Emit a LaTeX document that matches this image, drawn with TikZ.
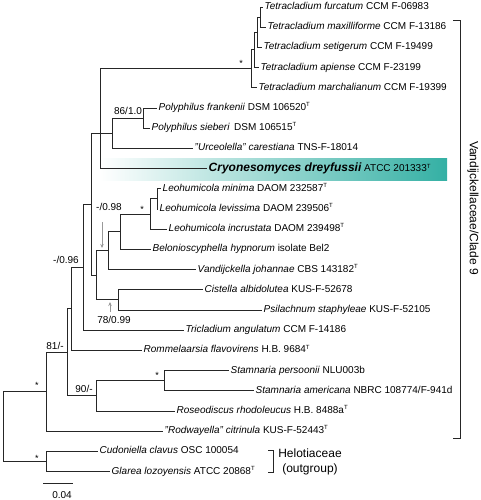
\documentclass[tikz,border=0pt]{standalone}
\usepackage{fontspec}
\setmainfont{Liberation Sans}
\usetikzlibrary{arrows.meta}
\definecolor{cryoteal}{RGB}{52,176,164}
\newcommand{\typeT}{\raisebox{3.8pt}{\fontsize{6}{6}\selectfont T}}
\begin{document}
\begin{tikzpicture}[x=1pt,y=-1pt,
	branch/.style={draw=black!85,line width=0.9pt},
	taxon/.style={anchor=west,inner xsep=1.5pt,inner ysep=0pt,text height=7pt,text depth=2pt,font=\fontsize{10}{12}\selectfont},
	support/.style={inner sep=0pt,text height=7pt,text depth=0pt,font=\fontsize{10}{12}\selectfont},
	supstar/.style={inner sep=0pt,font=\fontsize{9}{10}\selectfont},
	hint/.style={draw=black!40,line width=0.9pt,-{Stealth[length=4pt,width=3.5pt]}}]
						\useasboundingbox (0,0) rectangle (480,500);
						\coordinate (hl1) at (100,158);
						\coordinate (hl2) at (447,180);
						\shade[left color=white,right color=cryoteal] (hl1) rectangle (hl2);% Highlight
						% tips
						\node[taxon] (furc) at (263,7.0) {\textit{Tetracladium furcatum} CCM F-06983};
						\node[taxon] (maxil) at (266,27.2) {\textit{Tetracladium maxilliforme} CCM F-13186};
						\node[taxon] (setig) at (262,47.4) {\textit{Tetracladium setigerum} CCM F-19499};
						\node[taxon] (apien) at (259,67.6) {\textit{Tetracladium apiense} CCM F-23199};
						\node[taxon] (march) at (257,87.8) {\textit{Tetracladium marchalianum} CCM F-19399};
						\node[taxon] (frank) at (157,108.0) {\textit{Polyphilus frankenii} DSM 106520\typeT};
						\node[taxon] (sieb) at (150,128.2) {\textit{Polyphilus sieberi}\hspace{4.5pt}DSM 106515\typeT};
						\node[taxon] (urc) at (193,148.4) {\textit{"Urceolella" carestiana} TNS-F-18014};
						\node[taxon,text height=9pt,text depth=2.5pt] (cryo) at (207,168.6) {{\fontsize{12}{14}\selectfont\bfseries\itshape Cryonesomyces dreyfussii} ATCC 201333\typeT};
						\node[taxon] (lmin) at (161,188.8) {\textit{Leohumicola minima} DAOM 232587\typeT};
						\node[taxon] (llev) at (158,209.0) {\textit{Leohumicola levissima} DAOM 239506\typeT};
						\node[taxon] (linc) at (167,229.2) {\textit{Leohumicola incrustata} DAOM 239498\typeT};
						\node[taxon] (belo) at (151,249.4) {\textit{Belonioscyphella hypnorum} isolate Bel2};
						\node[taxon] (vand) at (196,269.6) {\textit{Vandijckella johannae} CBS 143182\typeT};
						\node[taxon] (cist) at (203,289.8) {\textit{Cistella albidolutea} KUS-F-52678};
						\node[taxon] (psil) at (262,310.0) {\textit{Psilachnum staphyleae} KUS-F-52105};
						\node[taxon] (tricl) at (184,330.2) {\textit{Tricladium angulatum} CCM F-14186};
						\node[taxon] (romm) at (142,350.4) {\textit{Rommelaarsia flavovirens} H.B. 9684\typeT};
						\node[taxon] (pers) at (229,370.6) {\textit{Stamnaria persoonii} NLU003b};
						\node[taxon] (amer) at (254,390.8) {\textit{Stamnaria americana} NBRC 108774/F-941d};
						\node[taxon] (rose) at (175,411.0) {\textit{Roseodiscus rhodoleucus} H.B. 8488a\typeT};
						\node[taxon] (rodw) at (163,431.2) {\textit{"Rodwayella" citrinula} KUS-F-52443\typeT};
						\node[taxon] (cud) at (98,451.4) {\textit{Cudoniella clavus} OSC 100054};
						\node[taxon] (glar) at (110,471.6) {\textit{Glarea lozoyensis} ATCC 20868\typeT};
						% internal nodes
						\coordinate (nT1) at (260,17.1);
						\coordinate (nT2) at (257,32.3);
						\coordinate (nT3) at (254,49.9);
						\coordinate (nT4) at (251,68.9);
						\coordinate (nPoly) at (143,118.1);
						\coordinate (nPU) at (112,133.3);
						\coordinate (nE) at (100,133.3);
						\coordinate (nLeo1) at (157,198.9);
						\coordinate (nLeo2) at (150,214.1);
						\coordinate (nBelo) at (120,231.7);
						\coordinate (nVand) at (108,250.7);
						\coordinate (nCist) at (118,299.9);
						\coordinate (nG) at (96,275.3);
						\coordinate (nD) at (91,204.3);
						\coordinate (nC) at (83,267.2);
						\coordinate (nB) at (71,308.8);
						\coordinate (nStam) at (164,380.7);
						\coordinate (nRos) at (96,395.9);
						\coordinate (nA) at (67,352.3);
						\coordinate (nIng) at (46,391.8);
						\coordinate (nOut) at (46,461.5);
						\coordinate (nRoot) at (3,426.6);
						% branches
						\draw[branch] (nT1) |- (furc.west) (nT1) |- (maxil.west);
						\draw[branch] (nT2) |- (nT1) (nT2) |- (setig.west);
						\draw[branch] (nT3) |- (nT2) (nT3) |- (apien.west);
						\draw[branch] (nT4) |- (nT3) (nT4) |- (march.west);% Tetracladium
						\draw[branch] (nPoly) |- (frank.west) (nPoly) |- (sieb.west);
						\draw[branch] (nPU) |- (nPoly) (nPU) |- (urc.west);
						\draw[branch] (nE) |- (nT4) (nE) -- (nPU) (nE) |- (cryo.west);
						\draw[branch] (nLeo1) |- (lmin.west) (nLeo1) |- (llev.west);
						\draw[branch] (nLeo2) |- (nLeo1) (nLeo2) |- (linc.west);% Leohumicola
						\draw[branch] (nBelo) |- (nLeo2) (nBelo) |- (belo.west);
						\draw[branch] (nVand) |- (nBelo) (nVand) |- (vand.west);
						\draw[branch] (nCist) |- (cist.west) (nCist) |- (psil.west);
						\draw[branch] (nG) |- (nVand) (nG) |- (nCist);
						\draw[branch] (nD) |- (nE) (nD) |- (nG);
						\draw[branch] (nC) |- (nD) (nC) |- (tricl.west);
						\draw[branch] (nB) |- (nC) (nB) |- (romm.west);
						\draw[branch] (nStam) |- (pers.west) (nStam) |- (amer.west);
						\draw[branch] (nRos) |- (nStam) (nRos) |- (rose.west);
						\draw[branch] (nA) |- (nB) (nA) |- (nRos);
						\draw[branch] (nIng) |- (nA) (nIng) |- (rodw.west);
						\draw[branch] (nOut) |- (cud.west) (nOut) |- (glar.west);% Outgroup
						\draw[branch] (nRoot) |- (nIng) (nRoot) |- (nOut);% Root
						% supports
						\node[supstar] (sT4) at (241,63) {*};
						\node[supstar] (sLeo) at (142,209) {*};
						\node[supstar] (sStam) at (157,375) {*};
						\node[supstar] (sIng) at (37,385) {*};
						\node[supstar] (sOut) at (37,458) {*};
						\node[support] (lPoly) at (128,111) {86/1.0};
						\node[support] (lVand) at (109,207) {-/0.98};
						\node[support] (lCist) at (114,320) {78/0.99};
						\node[support] (lC) at (66,260) {-/0.96};
						\node[support] (lA) at (55,346) {81/-};
						\node[support] (lRos) at (84,389) {90/-};
						\coordinate (a98s) at (102,222);
						\coordinate (a98e) at (102,248);
						\coordinate (a99s) at (110,312);
						\coordinate (a99e) at (110,302);
						\draw[hint] (a98s) -- (a98e);
						\draw[hint] (a99s) -- (a99e);
						% scale bar
						\coordinate (sb1) at (43,483);
						\coordinate (sb2) at (73,483);
						\draw[branch] (sb1) -- (sb2);
						\node[support] (sbl) at (62,495) {0.04};
						% brackets
						\coordinate (vtop) at (453,20);
						\coordinate (vbot) at (453,438);
						\draw[branch] (vtop) -- ++(7,0) |- (vbot);
						\node[rotate=-90,font=\fontsize{12}{14}\selectfont] (vlab) at (473,208) {Vandijckellaceae/Clade 9};
						\coordinate (htop) at (268,450);
						\coordinate (hbot) at (268,472);
						\draw[branch] (htop) -- ++(5,0) |- (hbot);
						\node[align=center,font=\fontsize{12}{15}\selectfont] (hlab) at (310,462) {Helotiaceae\\(outgroup)};
\end{tikzpicture}
\end{document}
